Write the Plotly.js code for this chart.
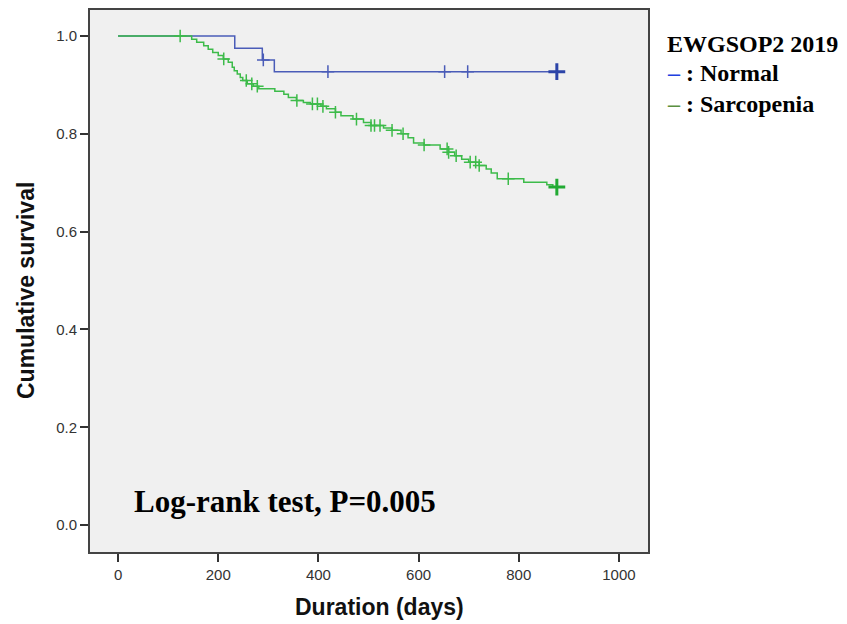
<!DOCTYPE html>
<html>
<head>
<meta charset="utf-8">
<script src="https://cdn.plot.ly/plotly-3.0.1.min.js"></script>
<style>html,body{margin:0;padding:0;background:#fff;}#chart{width:847px;height:624px;}</style>
</head>
<body>
<div id="chart"></div>
<script>
// ---- Data ----
// Normal group: event times (days) and survival after each step
const normalTime = [0, 233, 288, 312, 876];
const normalSurv = [1.0, 0.975, 0.951, 0.927, 0.927];
const normalCensor = [290, 419, 652, 698];
const normalLastCensor = [876];

// Sarcopenia group
const sarcTime = [0, 147, 157, 171, 180, 189, 200, 210, 220, 228, 232, 238, 244, 249, 258, 270, 281,
  313, 331, 340, 356, 370, 384, 405, 416, 434, 445, 469, 490, 505, 530, 547, 565, 579, 590, 611,
  643, 660, 672, 686, 700, 721, 735, 745, 757, 810, 856, 868, 876];
const sarcSurv = [1.0, 0.993, 0.987, 0.980, 0.973, 0.966, 0.960, 0.953, 0.946, 0.936, 0.929, 0.922, 0.915, 0.909, 0.902, 0.897, 0.892,
  0.887, 0.881, 0.874, 0.868, 0.864, 0.861, 0.856, 0.851, 0.844, 0.837, 0.830, 0.823, 0.817, 0.812, 0.807, 0.800, 0.792, 0.781, 0.777,
  0.769, 0.762, 0.755, 0.748, 0.742, 0.735, 0.728, 0.720, 0.708, 0.701, 0.696, 0.691, 0.691];
const sarcCensor = [124, 211, 256, 267, 278, 357, 388, 398, 409, 434, 476, 505, 512, 523, 547, 569, 611,
  657, 660, 675, 703, 714, 721, 779];
const sarcLastCensor = [876];

const xTicks = [0, 200, 400, 600, 800, 1000];
const yTicks = [0.0, 0.2, 0.4, 0.6, 0.8, 1.0];

// survival level of a step function at time t
function survAt(times, surv, t) {
  let s = surv[0];
  for (let i = 0; i < times.length; i++) { if (times[i] <= t) s = surv[i]; }
  return s;
}

const blue = '#4a5cb8', green = '#3dbb4a';
const blueDark = '#2c44a8', greenDark = '#22aa33';

function censorMarker(color, size, width) {
  return {symbol: 'cross-thin-open', size: size, color: color, line: {color: color, width: width}};
}

const traces = [
  {x: normalTime, y: normalSurv, mode: 'lines', line: {shape: 'hv', color: blue, width: 1.5}, hoverinfo: 'skip'},
  {x: sarcTime, y: sarcSurv, mode: 'lines', line: {shape: 'hv', color: green, width: 1.5}, hoverinfo: 'skip'},
  {x: normalCensor, y: normalCensor.map(t => survAt(normalTime, normalSurv, t)), mode: 'markers',
   marker: censorMarker(blue, 9, 1.5)},
  {x: sarcCensor, y: sarcCensor.map(t => survAt(sarcTime, sarcSurv, t)), mode: 'markers',
   marker: censorMarker(green, 9, 1.5)},
  {x: normalLastCensor, y: normalLastCensor.map(t => survAt(normalTime, normalSurv, t)), mode: 'markers',
   marker: censorMarker(blueDark, 12, 3)},
  {x: sarcLastCensor, y: sarcLastCensor.map(t => survAt(sarcTime, sarcSurv, t)), mode: 'markers',
   marker: censorMarker(greenDark, 12, 3)}
];

const tickFont = {family: 'Liberation Sans, Arial, sans-serif', size: 15, color: '#333'};
const serif = 'Liberation Serif, Times New Roman, serif';

const layout = {
  width: 847, height: 624,
  margin: {l: 90, r: 199, t: 10, b: 72},
  paper_bgcolor: '#ffffff', plot_bgcolor: '#f0f0f0',
  showlegend: false,
  xaxis: {range: [-56, 1058], tickvals: xTicks, ticktext: xTicks.map(String), ticks: 'outside', ticklen: 8, tickwidth: 2,
    tickcolor: '#333', showline: true, linecolor: '#444', linewidth: 2, mirror: true, showgrid: false, zeroline: false,
    tickfont: tickFont},
  yaxis: {range: [-0.055, 1.053], tickvals: yTicks, ticktext: yTicks.map(v => v.toFixed(1)), ticks: 'outside', ticklen: 8, tickwidth: 2,
    tickcolor: '#333', showline: true, linecolor: '#444', linewidth: 2, mirror: true, showgrid: false, zeroline: false,
    tickfont: tickFont},
  annotations: [
    {text: '<b>Cumulative survival</b>', xref: 'paper', yref: 'paper', x: -0.1147, y: 0.4834, textangle: -90,
     showarrow: false, xanchor: 'center', yanchor: 'middle', font: {family: 'Liberation Sans, Arial, sans-serif', size: 23, color: '#111'}},
    {text: '<b>Duration (days)</b>', xref: 'paper', yref: 'paper', x: 0.518, y: -0.1015,
     showarrow: false, xanchor: 'center', yanchor: 'middle', font: {family: 'Liberation Sans, Arial, sans-serif', size: 23, color: '#111'}},
    {text: '<b>Log-rank test, P=0.005</b>', xref: 'paper', yref: 'paper', x: 0.0753, y: 0.0923,
     showarrow: false, xanchor: 'left', yanchor: 'middle', font: {family: serif, size: 31, color: '#000'}},
    {text: '<b>EWGSOP2 2019</b>', xref: 'paper', yref: 'paper', x: 1.0305, y: 0.937,
     showarrow: false, xanchor: 'left', yanchor: 'middle', font: {family: serif, size: 24, color: '#000'}},
    {text: '<b><span style="color:#2040e0">–</span> : Normal</b>', xref: 'paper', yref: 'paper', x: 1.0305, y: 0.884,
     showarrow: false, xanchor: 'left', yanchor: 'middle', font: {family: serif, size: 24, color: '#000'}},
    {text: '<b><span style="color:#5a9040">–</span> : Sarcopenia</b>', xref: 'paper', yref: 'paper', x: 1.0305, y: 0.8266,
     showarrow: false, xanchor: 'left', yanchor: 'middle', font: {family: serif, size: 24, color: '#000'}}
  ]
};

Plotly.newPlot('chart', traces, layout, {staticPlot: true, displayModeBar: false});
</script>
</body>
</html>
